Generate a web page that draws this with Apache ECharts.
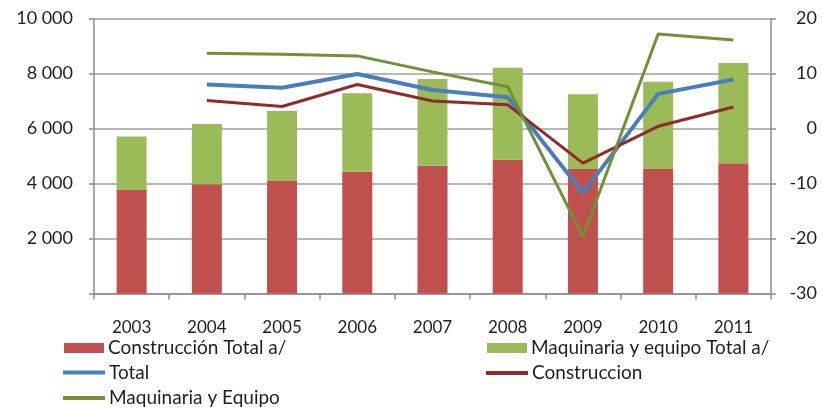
<!DOCTYPE html>
<html>
<head>
<meta charset="utf-8">
<script src="https://cdn.jsdelivr.net/npm/echarts@6/dist/echarts.min.js"></script>
<style>
  html, body { margin: 0; padding: 0; background: #ffffff; }
  #chart { width: 822px; height: 411px; }
</style>
</head>
<body>
<div id="chart"></div>
<script>
// Years on the category axis
const years = ['2003', '2004', '2005', '2006', '2007', '2008', '2009', '2010', '2011'];

// Stacked investment levels (left axis)
const construccionTotal = [3760, 3970, 4090, 4430, 4650, 4860, 4530, 4530, 4740];
const maquinariaTotal = [1950, 2190, 2550, 2850, 3150, 3350, 2720, 3170, 3640];

// Growth rates, % (right axis)
const totalRate = [null, 8.0, 7.4, 9.9, 7.0, 5.7, -11.7, 6.3, 8.9];
const construccionRate = [null, 5.1, 4.0, 8.0, 5.0, 4.3, -6.3, 0.4, 3.9];
const maquinariaRate = [null, 13.7, 13.5, 13.2, 10.3, 7.6, -19.7, 17.2, 16.1];

const FONT = 'Lato';
const TEXT = '#1f1f1f';
const AXIS = '#8c8c8c';

const C_RED = '#C0504D';
const C_GREEN = '#9BBB59';
const C_BLUE = '#4A7EBB';
const C_DARKRED = '#8E2B2B';
const C_OLIVE = '#6F913A';

function legendAt(name, left, top, isBar) {
  return {
    data: [{ name: name, icon: 'rect' }],
    left: left,
    top: top,
    padding: 0,
    itemWidth: isBar ? 40 : 42,
    itemHeight: isBar ? 10 : 4,
    itemGap: 0,
    selectedMode: false,
    textStyle: { fontFamily: FONT, fontSize: 19, color: TEXT, lineHeight: 22, padding: [0, 0, 0, -1] }
  };
}

const chart = echarts.init(document.getElementById('chart'), null, { renderer: 'canvas' });

chart.setOption({
  animation: false,
  backgroundColor: '#ffffff',
  grid: { left: 94, right: 51, top: 18.5, bottom: 117.5 },
  legend: [
    legendAt('Construcción Total a/', 64, 337, true),
    legendAt('Maquinaria y equipo Total a/', 487, 337, true),
    legendAt('Total', 63, 361.5, false),
    legendAt('Construccion', 486, 362, false),
    legendAt('Maquinaria y Equipo', 63, 387, false)
  ],
  xAxis: {
    type: 'category',
    data: years,
    boundaryGap: true,
    axisLine: { lineStyle: { color: AXIS, width: 1.5 } },
    axisTick: { show: true, length: 6, lineStyle: { color: AXIS, width: 1.5 } },
    axisLabel: { fontFamily: FONT, fontSize: 17, color: TEXT, margin: 26 }
  },
  yAxis: [
    {
      type: 'value',
      min: 0,
      max: 10000,
      interval: 2000,
      axisLine: { show: true, lineStyle: { color: AXIS, width: 1.5 } },
      axisTick: { show: true, length: 5, lineStyle: { color: AXIS, width: 1.5 } },
      splitLine: { show: true, lineStyle: { color: '#a0a0a0', width: 1.5 } },
      axisLabel: {
        fontFamily: FONT, fontSize: 18, color: TEXT, margin: 21,
        formatter: function (v) {
          if (v === 0) return '';
          const s = String(v);
          return s.slice(0, s.length - 3) + ' ' + s.slice(s.length - 3);
        }
      }
    },
    {
      type: 'value',
      position: 'right',
      min: -30,
      max: 20,
      interval: 10,
      axisLine: { show: true, lineStyle: { color: AXIS, width: 1.5 } },
      axisTick: { show: true, length: 5, lineStyle: { color: AXIS, width: 1.5 } },
      splitLine: { show: false },
      axisLabel: { fontFamily: FONT, fontSize: 18, color: TEXT, margin: 46, align: 'right' }
    }
  ],
  series: [
    {
      name: 'Construcción Total a/',
      type: 'bar',
      stack: 'inv',
      yAxisIndex: 0,
      barWidth: 30,
      itemStyle: { color: C_RED },
      data: construccionTotal
    },
    {
      name: 'Maquinaria y equipo Total a/',
      type: 'bar',
      stack: 'inv',
      yAxisIndex: 0,
      barWidth: 30,
      itemStyle: { color: C_GREEN },
      data: maquinariaTotal
    },
    {
      name: 'Total',
      type: 'line',
      yAxisIndex: 1,
      symbol: 'none',
      lineStyle: { color: C_BLUE, width: 4 },
      itemStyle: { color: C_BLUE },
      data: totalRate
    },
    {
      name: 'Construccion',
      type: 'line',
      yAxisIndex: 1,
      symbol: 'none',
      lineStyle: { color: C_DARKRED, width: 3 },
      itemStyle: { color: C_DARKRED },
      data: construccionRate
    },
    {
      name: 'Maquinaria y Equipo',
      type: 'line',
      yAxisIndex: 1,
      symbol: 'none',
      lineStyle: { color: C_OLIVE, width: 3 },
      itemStyle: { color: C_OLIVE },
      data: maquinariaRate
    }
  ]
});
</script>
</body>
</html>
